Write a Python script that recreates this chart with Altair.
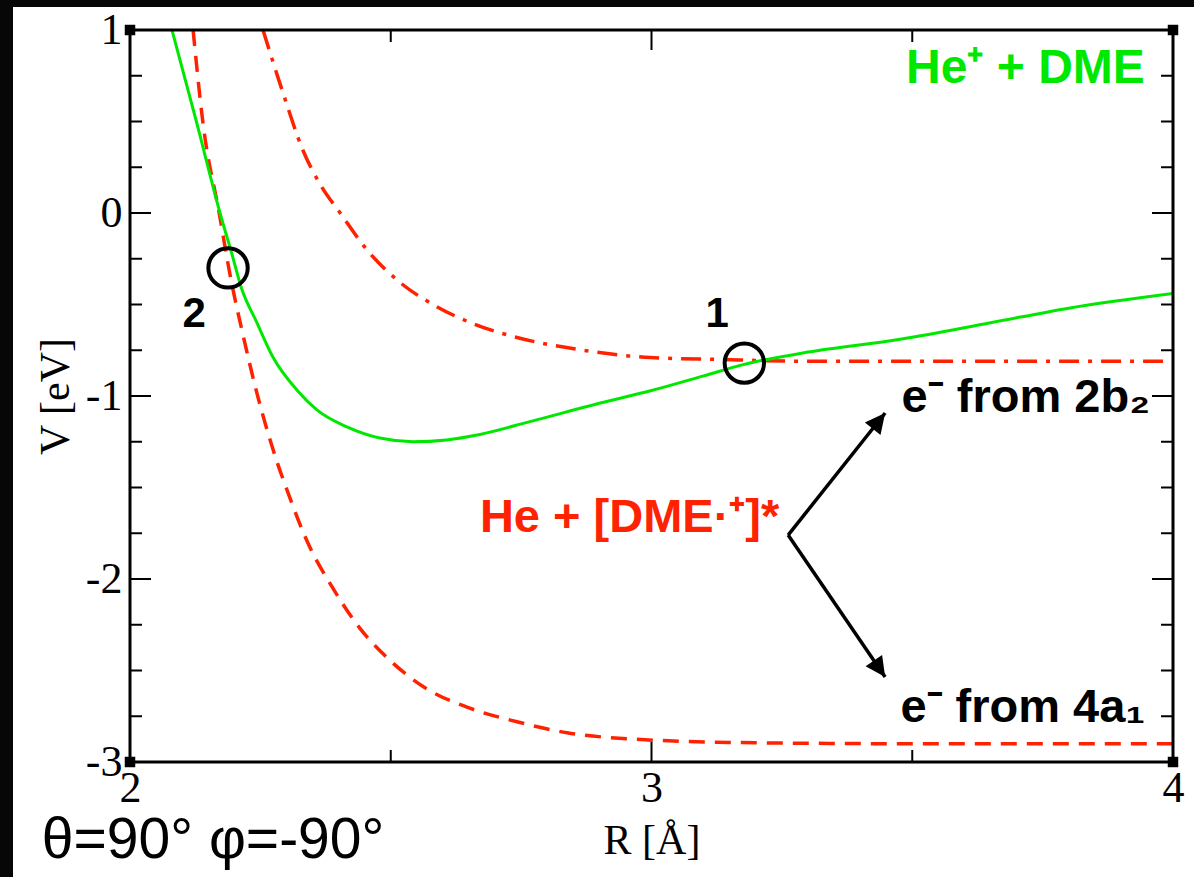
import altair as alt
import pandas as pd

# ---------------- data ----------------
# He+ + DME (green, solid)
green_R = [2.0805, 2.127, 2.1726, 2.196, 2.213, 2.2435, 2.274, 2.320, 2.359, 2.416, 2.479,
           2.543, 2.607, 2.671, 2.767, 2.900, 3.000, 3.100, 3.174, 3.300, 3.477, 3.650,
           3.800, 4.000]
green_V = [1.00, 0.503, 0.00, -0.23, -0.404, -0.60, -0.787, -0.967, -1.077, -1.169, -1.23,
           -1.25, -1.24, -1.21, -1.14, -1.04, -0.97, -0.89, -0.83, -0.76, -0.69, -0.60,
           -0.52, -0.44]

# He + [DME.+]*, e- from 4a1 (red, dashed)
red4a1_R = [2.121, 2.140, 2.171, 2.192, 2.217, 2.243, 2.274, 2.307, 2.339, 2.389, 2.441,
            2.493, 2.569, 2.646, 2.742, 2.838, 2.965, 3.200, 3.500, 4.000]
red4a1_V = [1.00, 0.49, 0.00, -0.34, -0.67, -0.98, -1.29, -1.56, -1.79, -2.05, -2.27,
            -2.43, -2.60, -2.70, -2.78, -2.84, -2.875, -2.895, -2.90, -2.90]

# He + [DME.+]*, e- from 2b2 (red, dash-dot)
red2b2_R = [2.255, 2.293, 2.332, 2.364, 2.403, 2.454, 2.518, 2.581, 2.658, 2.742, 2.869,
            2.997, 3.126, 3.300, 3.600, 4.000]
red2b2_V = [1.00, 0.66, 0.34, 0.16, 0.00, -0.20, -0.38, -0.50, -0.605, -0.68, -0.75,
            -0.79, -0.80, -0.81, -0.81, -0.81]

# crossing markers (circles)
circle_R = [2.188, 3.178]
circle_V = [-0.30, -0.82]

# arrows: start (vertex) and tip
arrow_R = [3.262, 3.262]
arrow_V = [-1.76, -1.76]
arrow_R2 = [3.448, 3.448]
arrow_V2 = [-1.093, -2.536]
arrow_angle = [38.5, 145.7]

# ticks
x_major = [2, 3, 4]
x_minor = [2.5, 3.5]
y_major = [1, 0, -1, -2, -3]
y_minor = [0.75, 0.5, 0.25, -0.25, -0.5, -0.75, -1.25, -1.5, -1.75,
           -2.25, -2.5, -2.75]
corner_R = [2, 4, 2, 4]
corner_V = [1, 1, -3, -3]

# annotations
num_text = ["2", "1"]
num_R = [2.123, 3.126]
num_V = [-0.623, -0.623]

# ---------------- chart ----------------
W, H = 1043, 732
GREEN = "#00e800"
RED = "#ff2200"
SERIF = "Liberation Serif"
SANS = "Liberation Sans"

xscale = alt.Scale(domain=[2, 4], nice=False, zero=False)
yscale = alt.Scale(domain=[-3, 1], nice=False, zero=False)

xaxis = alt.Axis(values=x_major, ticks=False, domain=False, grid=False,
                 labelExpr="datum.value + ''",
                 labelFont=SERIF, labelFontSize=44, labelColor="black",
                 labelPadding=4, labelFlush=False, labelOverlap=False,
                 title="R [Å]", titleFont=SERIF, titleFontSize=42,
                 titleFontWeight="normal", titleColor="black", titlePadding=10,
                 zindex=2)
yaxis = alt.Axis(values=y_major, ticks=False, domain=False, grid=False,
                 labelExpr="datum.value + ''",
                 labelFont=SERIF, labelFontSize=44, labelColor="black",
                 labelPadding=8, labelFlush=False, labelOverlap=False,
                 title="V [eV]", titleFont=SERIF, titleFontSize=42,
                 titleFontWeight="normal", titleColor="black", titlePadding=8,
                 zindex=2)

X = alt.X("R:Q", scale=xscale, axis=xaxis)
Y = alt.Y("V:Q", scale=yscale, axis=yaxis)


def frame(R, V, **extra):
    d = {"R": R, "V": V}
    d.update(extra)
    return pd.DataFrame(d)


# white sheet on black background
sheet = alt.Chart(pd.DataFrame({"a": [0]})).mark_rect(color="white").encode(
    x=alt.value(-117), x2=alt.value(1064), y=alt.value(-23), y2=alt.value(847))

green = alt.Chart(frame(green_R, green_V)).mark_line(
    color=GREEN, strokeWidth=3, clip=True, interpolate="monotone").encode(x=X, y=Y)
red_dash = alt.Chart(frame(red4a1_R, red4a1_V)).mark_line(
    color=RED, strokeWidth=3.5, strokeDash=[16, 10], clip=True,
    interpolate="monotone").encode(x=X, y=Y)
red_dashdot = alt.Chart(frame(red2b2_R, red2b2_V)).mark_line(
    color=RED, strokeWidth=3.5, strokeDash=[20, 9, 4, 9], clip=True,
    interpolate="monotone").encode(x=X, y=Y)


# ticks (inward)
def xticks(vals, length):
    d = pd.DataFrame({"R": vals})
    b = alt.Chart(d).mark_rule(color="black", strokeWidth=2).encode(
        x=X, y=alt.value(H), y2=alt.value(H - length))
    t = alt.Chart(d).mark_rule(color="black", strokeWidth=2).encode(
        x=X, y=alt.value(0), y2=alt.value(length))
    return [b, t]


def yticks(vals, length):
    d = pd.DataFrame({"V": vals})
    l = alt.Chart(d).mark_rule(color="black", strokeWidth=2).encode(
        y=Y, x=alt.value(0), x2=alt.value(length))
    r = alt.Chart(d).mark_rule(color="black", strokeWidth=2).encode(
        y=Y, x=alt.value(W), x2=alt.value(W - length))
    return [l, r]


ticks = xticks(x_major, 20) + xticks(x_minor, 12) + yticks(y_major, 21) + yticks(y_minor, 12)

border = alt.Chart(pd.DataFrame({"a": [0]})).mark_rect(
    fill=None, stroke="black", strokeWidth=3).encode(
    x=alt.value(0), x2=alt.value(W), y=alt.value(0), y2=alt.value(H))

corners = alt.Chart(frame(corner_R, corner_V)).mark_square(
    color="black", size=110, opacity=1).encode(x=X, y=Y)

circles = alt.Chart(frame(circle_R, circle_V)).mark_point(
    shape="circle", size=1550, filled=False, stroke="black", strokeWidth=4,
    opacity=1).encode(x=X, y=Y)

arrows = alt.Chart(frame(arrow_R, arrow_V, R2=arrow_R2, V2=arrow_V2)).mark_rule(
    color="black", strokeWidth=3.5).encode(x=X, y=Y, x2="R2:Q", y2="V2:Q")
heads = alt.Chart(frame(arrow_R2, arrow_V2, ang=arrow_angle)).mark_point(
    shape="M0,0 L-0.5,1 L0.5,1 Z", size=1600, filled=True, color="black",
    opacity=1).encode(x=X, y=Y, angle=alt.Angle("ang:Q", scale=None))

numbers = alt.Chart(frame(num_R, num_V, t=num_text)).mark_text(
    font=SANS, fontWeight="bold", fontSize=42, color="black",
    align="center", baseline="alphabetic").encode(x=X, y=Y, text="t:N")

t_green = alt.Chart(frame([3.946], [0.71], t=["He⁺ + DME"])).mark_text(
    font=SANS, fontWeight="bold", fontSize=48, color=GREEN,
    align="right", baseline="alphabetic").encode(x=X, y=Y, text="t:N")
t_red = alt.Chart(frame([2.671], [-1.743], t=["He + [DME·⁺]*"])).mark_text(
    font=SANS, fontWeight="bold", fontSize=47, color=RED,
    align="left", baseline="alphabetic").encode(x=X, y=Y, text="t:N")
t_black = alt.Chart(frame([3.956, 3.946], [-1.087, -2.78],
                          t=["e⁻ from 2b₂", "e⁻ from 4a₁"])).mark_text(
    font=SANS, fontWeight="bold", fontSize=47, color="black",
    align="right", baseline="alphabetic").encode(x=X, y=Y, text="t:N")
t_angle = alt.Chart(frame([1.831], [-3.525], t=["θ=90° φ=-90°"])).mark_text(
    font=SANS, fontSize=57, color="black", align="left",
    baseline="alphabetic").encode(x=X, y=Y, text="t:N")

chart = alt.layer(
    sheet, red_dashdot, red_dash, green, *ticks, border, corners, circles,
    arrows, heads, numbers, t_green, t_red, t_black, t_angle
).properties(
    width=W, height=H,
    autosize=alt.AutoSizeParams(type="none"),
    padding={"left": 130, "top": 30, "right": 21, "bottom": 115},
    background="#070707",
).configure_view(stroke=None)

chart.save("out.html", embed_options={"renderer": "svg", "actions": False})
